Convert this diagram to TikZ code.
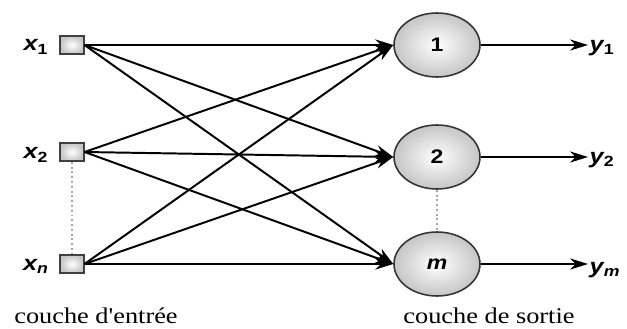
\documentclass[tikz,border=0pt]{standalone}
\usepackage{fontspec}
\usepackage{graphicx}
\setmainfont{Liberation Serif}
\setsansfont{Liberation Sans}
\usetikzlibrary{arrows.meta}
\usetikzlibrary{positioning,shapes}
\newcommand{\sig}[2]{\scalebox{1.2}[1]{{\sffamily\bfseries\itshape #1}\textsubscript{\sffamily\bfseries #2}}}
\newcommand{\elargi}[1]{\scalebox{1.17}[1]{#1}}
\tikzset{
    neuron/.style={
        draw=black!80,
        ellipse,
        line width=1.1pt,
        minimum width=2.15cm,
        minimum height=1.6cm,
        inner color=white,
        outer color=gray!45,
        font=\fontsize{14}{16}\selectfont\sffamily\bfseries
    },
    entree/.style={
        draw=black!75,
        rectangle,
        line width=1.3pt,
        minimum width=0.58cm,
        minimum height=0.45cm,
        inner color=white,
        outer color=gray!45
    },
    lien/.style={
        draw,
        -{Stealth[length=4.5mm, width=2.8mm, inset=1.4mm]},
        line width=1.4pt
    },
    pointille/.style={
        draw=gray!70,
        dotted,
        line width=1.4pt
    },
    etiq/.style={font=\fontsize{15}{17}\selectfont, inner sep=1pt},
    legende/.style={font=\fontsize{16}{18}\selectfont, inner sep=0pt}
}

\begin{document}
\begin{tikzpicture}[x=0.025cm, y=-0.025cm]
    \useasboundingbox (0,0) rectangle (627,329);

    % Couche d'entree
    \node[entree] (x1) at (72,45) {};
    \node[entree] (x2) at (72,152) {};
    \node[entree] (xn) at (72,264) {};
    \node[etiq] (lx1) at (36,47) {\sig{x}{1}};
    \node[etiq] (lx2) at (36,155) {\sig{x}{2}};
    \node[etiq] (lxn) at (36,266) {\sig{x}{\itshape n}};
    \draw[pointille] (x2.south) -- (xn.north);

    % Couche de sortie
    \node[neuron] (c1) at (437,45) {\elargi{1}};
    \node[neuron] (c2) at (437,157) {\elargi{2}};
    \node[neuron] (cm) at (437,264) {\elargi{\itshape m}};
    \draw[pointille] (c2.south) -- (cm.north);

    % Connexions
    \foreach \i in {x1,x2,xn}
        \foreach \j in {c1,c2,cm}
            \draw[lien] (\i.east) -- (\j.west);

    % Sorties
    \node[etiq, anchor=west] (y1) at (588,48) {\sig{y}{1}};
    \node[etiq, anchor=west] (y2) at (588,160) {\sig{y}{2}};
    \node[etiq, anchor=west] (ym) at (588,270) {\sig{y}{\itshape m}};
    \draw[lien] (c1.east) -- (y1.west |- c1.east);
    \draw[lien] (c2.east) -- (y2.west |- c2.east);
    \draw[lien] (cm.east) -- (ym.west |- cm.east);

    % Legendes
    \node[legende] (le) at (96,316) {\elargi{couche d\textquotesingle entrée}};
    \node[legende] (ls) at (489,316) {\elargi{couche de sortie}};
\end{tikzpicture}
\end{document}
